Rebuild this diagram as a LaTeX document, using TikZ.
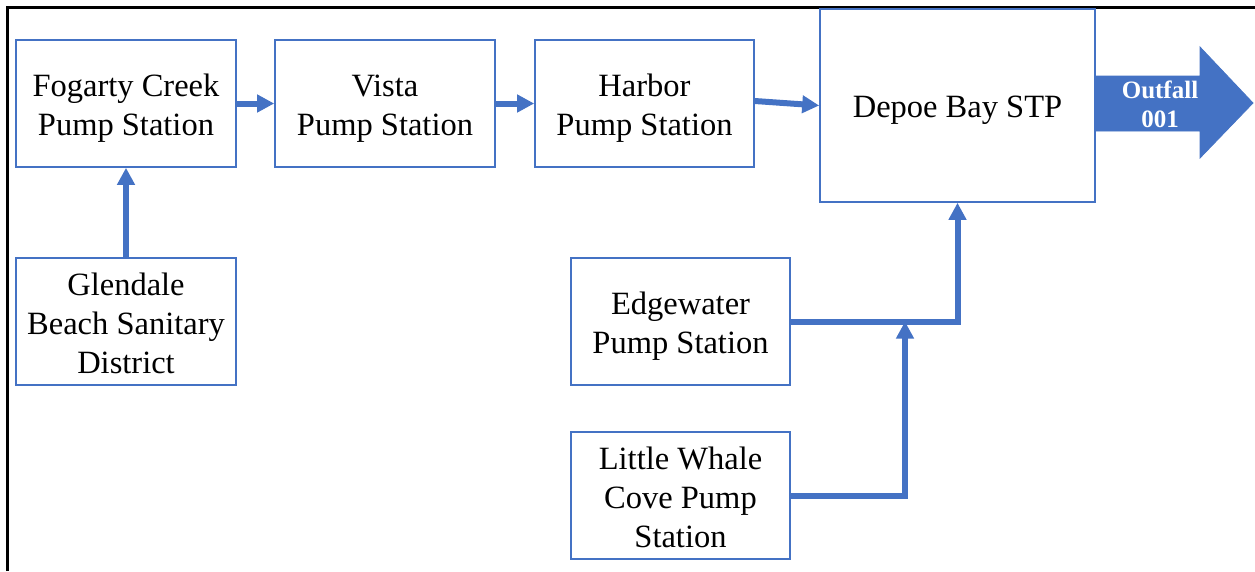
\documentclass[tikz,border=0pt]{standalone}
\usepackage{fontspec}
\setmainfont{Liberation Serif}
\usetikzlibrary{arrows.meta}
\definecolor{wblue}{HTML}{4472C4}
\tikzset{
  box/.style={draw=wblue, line width=1.6pt, fill=white, rectangle, inner sep=0pt},
  txt/.style={align=center, inner sep=0pt, font=\fontsize{32.5}{39}\selectfont},
  flow/.style={draw=wblue, line width=6pt, -{Triangle[width=17pt,length=17pt]}},
  frame/.style={draw=black, line width=3pt}
}
\begin{document}
\begin{tikzpicture}[x=1pt,y=-1pt]
\useasboundingbox (0,0) rectangle (1255,571);
\draw[frame] (7,571) -- (7,7) -- (1255,7);
\node[box, minimum width=220pt, minimum height=127pt] (fog) at (126,103.5) {};
\node[box, minimum width=220pt, minimum height=127pt] (vista) at (385,103.5) {};
\node[box, minimum width=219pt, minimum height=127pt] (harbor) at (644.5,103.5) {};
\node[box, minimum width=275pt, minimum height=193pt] (stp) at (957.5,105.5) {};
\node[box, minimum width=220pt, minimum height=127pt] (glen) at (126,321.5) {};
\node[box, minimum width=219pt, minimum height=127pt] (edge) at (680.5,321.5) {};
\node[box, minimum width=219pt, minimum height=127pt] (lw) at (680.5,495.5) {};
\node[txt] (fogt) at ([yshift=-5pt]fog.center) {Fogarty Creek\\Pump Station};
\node[txt] (vistat) at ([yshift=-5pt]vista.center) {Vista\\Pump Station};
\node[txt] (harbort) at ([yshift=-5pt]harbor.center) {Harbor\\Pump Station};
\node[txt] (stpt) at ([yshift=-5pt]stp.center) {Depoe Bay STP};
\node[txt] (glent) at ([yshift=-1.5pt]glen.center) {Glendale\\Beach Sanitary\\District};
\node[txt] (edget) at ([yshift=-4.5pt]edge.center) {Edgewater\\Pump Station};
\node[txt] (lwt) at ([yshift=-2pt]lw.center) {Little Whale\\Cove Pump\\Station};
\coordinate (j) at (905,321.5);
\draw[flow] (fog.east) -- (vista.west);
\draw[flow] (vista.east) -- (harbor.west);
\draw[flow] ([yshift=2.5pt]harbor.east) -- (stp.west);
\draw[flow] (glen.north) -- (fog.south);
\draw[flow] (edge.east) -| (stp.south);
\draw[flow] (lw.east) -| (j);
\fill[wblue, draw=wblue, line width=0.8pt] (1095.5,76) -- (1200,76) -- (1200,47) -- (1253,103) -- (1200,158) -- (1200,131) -- (1095.5,131) -- cycle;
\node[text=white, font=\fontsize{25}{29}\selectfont\bfseries, align=center, inner sep=0pt] (outfall) at (1160,104.5) {Outfall\\001};
\end{tikzpicture}
\end{document}
